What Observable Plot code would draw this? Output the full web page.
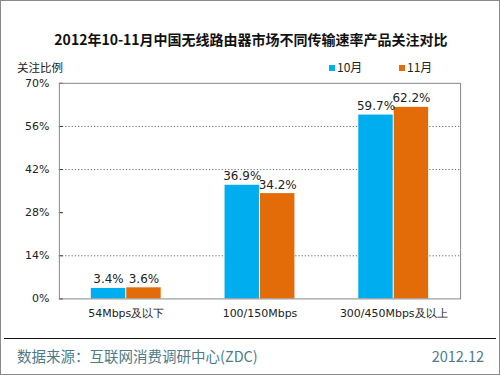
<!DOCTYPE html>
<html>
<head>
<meta charset="utf-8">
<script src="https://cdn.jsdelivr.net/npm/d3@7"></script>
<script src="https://cdn.jsdelivr.net/npm/@observablehq/plot@0.6"></script>
<style>
  body { margin: 0; background: #fff; }
  #wrap { position: relative; width: 500px; height: 375px; box-sizing: border-box; border: 1px solid #8a8a8a; overflow: hidden; font-family: "Noto Sans CJK SC", sans-serif; }
  #chart { position: absolute; left: -1px; top: -1px; }
  .abs { position: absolute; white-space: nowrap; }
  #title { left: 0; width: 500px; top: 28px; text-align: center; font-size: 14px; font-weight: bold; color: #111; line-height: 20px; }
  #ylabel { left: 16px; top: 58px; font-size: 11.5px; color: #222; line-height: 16px; }
  .leg { top: 58px; font-size: 12px; color: #222; line-height: 16px; }
  .sw { display: inline-block; width: 6px; height: 6px; margin-right: 2px; vertical-align: 1px; }
  #rule { left: 3px; width: 492px; top: 337px; height: 0; border-top: 1.5px solid #111; }
  #source { left: 16px; top: 345px; font-size: 14.5px; color: #4d7b8a; line-height: 20px; }
  #date { right: 15px; top: 345px; font-size: 14.5px; color: #4d7b8a; line-height: 20px; }
</style>
</head>
<body>
<div id="wrap">
  <div id="chart"></div>
  <div class="abs" id="title"></div>
  <div class="abs" id="ylabel"></div>
  <div class="abs leg" id="leg0" style="left:328px"></div>
  <div class="abs leg" id="leg1" style="left:398px"></div>
  <div class="abs" id="rule"></div>
  <div class="abs" id="source"></div>
  <div class="abs" id="date"></div>
</div>
<script>
const titleText = "2012年10-11月中国无线路由器市场不同传输速率产品关注对比";
const yAxisLabel = "关注比例";
const sourceText = "数据来源：互联网消费调研中心(ZDC)";
const dateText = "2012.12";
const categories = ["54Mbps及以下", "100/150Mbps", "300/450Mbps及以上"];
const months = ["10月", "11月"];
const colors = ["#00AEEF", "#E36C09"];
const octValues = [3.4, 36.9, 59.7];
const novValues = [3.6, 34.2, 62.2];
const yTicks = [0, 14, 28, 42, 56, 70];
const gridTicks = [14, 42, 56];

document.getElementById("title").textContent = titleText;
document.getElementById("ylabel").textContent = yAxisLabel;
document.getElementById("source").textContent = sourceText;
document.getElementById("date").textContent = dateText;
months.forEach((m, i) => {
  const el = document.getElementById("leg" + i);
  el.innerHTML = `<span class="sw" style="background:${colors[i]}"></span>${m}`;
});

const octRows = categories.map((c, i) => ({cat: c, month: months[0], value: octValues[i]}));
const novRows = categories.map((c, i) => ({cat: c, month: months[1], value: novValues[i]}));
const fmt = d => d.value.toFixed(1) + "%";

const chart = Plot.plot({
  width: 500,
  height: 375,
  marginLeft: 59,
  marginRight: 39,
  marginTop: 83,
  marginBottom: 76,
  style: {fontFamily: "DejaVu Sans, sans-serif", fontSize: "11px", color: "#222", background: "transparent", overflow: "visible"},
  x: {domain: categories, padding: 0, label: null, tickSize: 0, tickPadding: 10},
  y: {domain: [0, 70], ticks: yTicks, tickFormat: d => d + "%", label: null, tickSize: -4, tickPadding: 14},
  marks: [
    Plot.ruleY(gridTicks, {stroke: "#666", strokeDasharray: "1.2,2"}),
    Plot.barY(octRows, {x: "cat", y: "value", fill: colors[0], insetLeft: 32, insetRight: 67.5}),
    Plot.barY(novRows, {x: "cat", y: "value", fill: colors[1], insetLeft: 67.5, insetRight: 32}),
    Plot.text(octRows, {x: "cat", y: "value", text: fmt, dx: -17.75, dy: -5, lineAnchor: "bottom", fontSize: 12, fill: "#222"}),
    Plot.text(novRows, {x: "cat", y: "value", text: fmt, dx: 17.75, dy: -5, lineAnchor: "bottom", fontSize: 12, fill: "#222"}),
    Plot.frame({stroke: "#888"})
  ]
});
document.getElementById("chart").appendChild(chart);
</script>
</body>
</html>
